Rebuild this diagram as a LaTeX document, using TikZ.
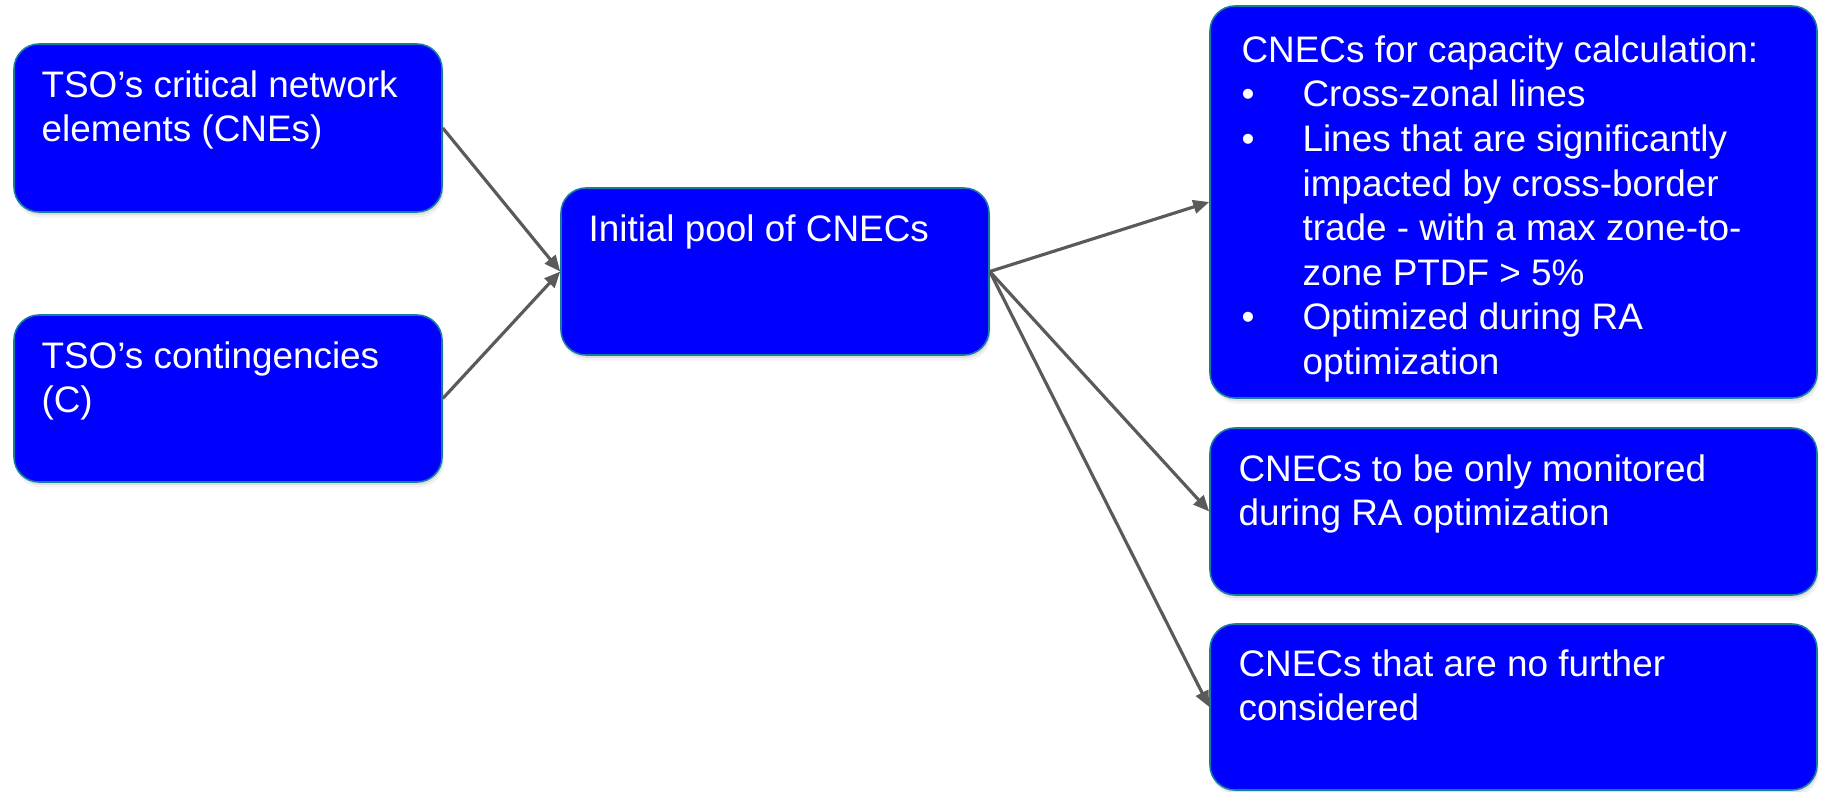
\documentclass[tikz,border=0pt]{standalone}
\usepackage{fontspec}
\setmainfont{Liberation Sans}
\usetikzlibrary{arrows.meta,shadows}

\definecolor{boxblue}{RGB}{0,0,255}
\definecolor{boxedge}{RGB}{20,125,160}
\definecolor{linkgray}{RGB}{90,90,90}
% one drawing unit
\def\px{0.02cm}

\begin{document}
\begin{tikzpicture}[x=0.02cm, y=-0.02cm,
  box/.style n args={2}{draw=boxedge, line width=0.9pt, fill=boxblue,
    rounded corners=0.5cm, inner sep=0pt,
    minimum width=#1*\px, minimum height=#2*\px,
    drop shadow={shadow xshift=0.6pt, shadow yshift=-1.6pt, opacity=0.18},
    drop shadow={shadow xshift=1.0pt, shadow yshift=-3.2pt, opacity=0.10}},
  boxtext/.style={anchor=base west, inner sep=0pt, text=white,
    font=\fontsize{21}{25.4}\selectfont},
  link/.style={draw=linkgray, line width=1.8pt,
    -{Triangle[length=0.32cm, width=0.27cm]}}]

\useasboundingbox (0,0) rectangle (1821,791);

% boxes
\node[box={428}{168}] (cne)  at (228,128)    {};
\node[box={428}{167}] (cont) at (228,398.5)  {};
\node[box={428}{167}] (pool) at (775,271.5)  {};
\node[box={607}{392}] (cc)   at (1513.5,202) {};
\node[box={607}{167}] (mon)  at (1513.5,511.5) {};
\node[box={607}{166}] (nfc)  at (1513.5,707) {};

% box texts
\node[boxtext] (cnetxt) at ([xshift=28*\px, yshift=-54*\px]cne.north west)
  {\parbox[t]{8cm}{\raggedright TSO’s critical network\\elements (CNEs)}};
\node[boxtext] (conttxt) at ([xshift=28*\px, yshift=-54*\px]cont.north west)
  {\parbox[t]{8cm}{\raggedright TSO’s contingencies\\(C)}};
\node[boxtext] (pooltxt) at ([xshift=28*\px, yshift=-54*\px]pool.north west)
  {\parbox[t]{8cm}{\raggedright Initial pool of CNECs}};
\node[boxtext] (cctxt) at ([xshift=32*\px, yshift=-57*\px]cc.north west)
  {\parbox[t]{11.5cm}{\raggedright CNECs for capacity calculation:\\
    \makebox[1.22cm][l]{•}Cross-zonal lines\\
    \makebox[1.22cm][l]{•}Lines that are significantly\\
    \hspace*{1.22cm}impacted by cross-border\\
    \hspace*{1.22cm}trade - with a max zone-to-\\
    \hspace*{1.22cm}zone PTDF > 5\%\\
    \makebox[1.22cm][l]{•}Optimized during RA\\
    \hspace*{1.22cm}optimization}};
\node[boxtext] (montxt) at ([xshift=29*\px, yshift=-54*\px]mon.north west)
  {\parbox[t]{11.5cm}{\raggedright CNECs to be only monitored\\during RA optimization}};
\node[boxtext] (nfctxt) at ([xshift=29*\px, yshift=-53*\px]nfc.north west)
  {\parbox[t]{11.5cm}{\raggedright CNECs that are no further\\considered}};

% connectors
\draw[link] (cne.east)  -- (pool.west);
\draw[link] (cont.east) -- (pool.west);
\draw[link] (pool.east) -- (cc.west);
\draw[link] (pool.east) -- (mon.west);
\draw[link] (pool.east) -- (nfc.west);

\end{tikzpicture}
\end{document}
